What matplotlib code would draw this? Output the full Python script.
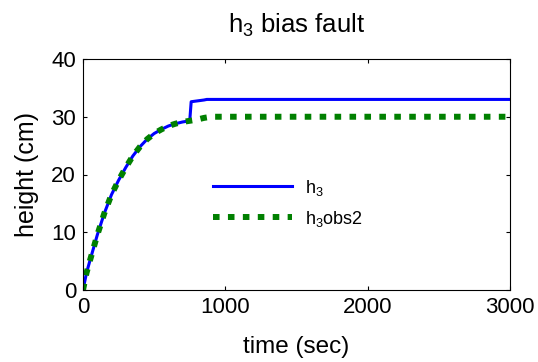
import matplotlib
matplotlib.use("Agg")
import matplotlib.pyplot as plt

plt.rcParams["font.family"] = ["Liberation Sans", "DejaVu Sans"]
plt.rcParams["mathtext.default"] = "regular"

# data
t_h3 = [0, 25, 50, 100, 150, 200, 250, 300, 350, 400, 450, 500, 550, 600, 650, 700, 750, 760, 850, 870, 3000]
h3 = [0, 3.0, 5.2, 9.5, 13.3, 16.5, 19.0, 21.2, 23.2, 24.8, 26.1, 27.1, 27.8, 28.4, 28.8, 29.1, 29.3, 32.6, 32.9, 33.0, 33.0]

t_obs = [0, 25, 50, 100, 150, 200, 250, 300, 350, 400, 450, 500, 550, 600, 650, 700, 750, 800, 850, 900, 3000]
h3_obs2 = [0, 3.0, 5.2, 9.5, 13.3, 16.5, 19.0, 21.2, 23.2, 24.8, 26.1, 27.1, 27.8, 28.4, 28.8, 29.1, 29.3, 29.5, 29.8, 30.0, 30.0]

fig = plt.figure(figsize=(5.38, 3.62), dpi=100)
ax = fig.add_axes([83 / 538, 1 - 290 / 362, 427 / 538, 231 / 362])

ax.plot(t_h3, h3, color=(0, 0, 1), linewidth=2.2, label="h$_3$")
ax.plot(t_obs, h3_obs2, color=(0, 0.5, 0), linewidth=4.3,
        linestyle=(0, (1.1, 1.4)), label="h$_3$obs2")

ax.set_xlim(0, 3000)
ax.set_ylim(0, 40)
ax.set_xticks([0, 1000, 2000, 3000])
ax.set_yticks([0, 10, 20, 30, 40])
ax.tick_params(direction="in", top=True, right=True, labelsize=16, length=3, pad=5)
for s in ax.spines.values():
    s.set_linewidth(0.8)

ax.set_xlabel("time (sec)", fontsize=17.5, labelpad=13)
ax.set_ylabel("height (cm)", fontsize=18, labelpad=9)
ax.set_title("h$_3$ bias fault", fontsize=18.5, pad=19)

ax.legend(loc="upper left", bbox_to_anchor=(0.266, 0.556), frameon=False,
          fontsize=13, handlelength=4.4, handletextpad=0.7, labelspacing=0.6)

fig.savefig("out.png", dpi=100)
